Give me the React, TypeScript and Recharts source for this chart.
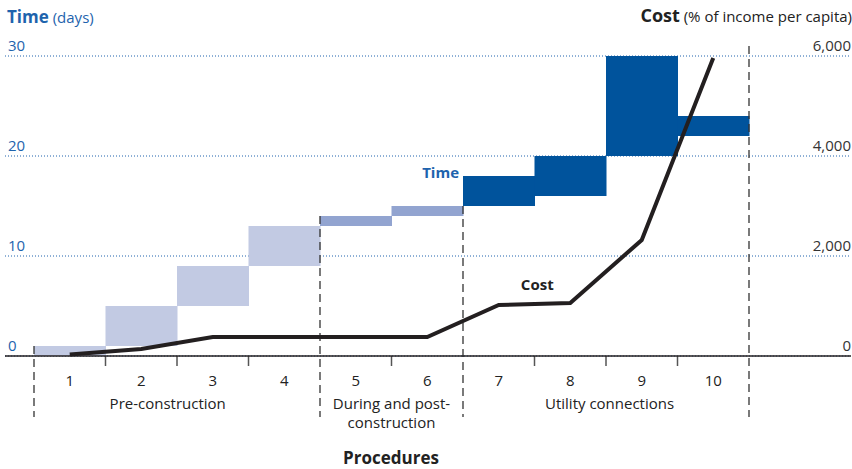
import React from 'react'
import {
  ComposedChart,
  Bar,
  Line,
  Cell,
  XAxis,
  YAxis,
  CartesianGrid,
  ReferenceLine,
  LabelList,
} from 'recharts'

// procedures 1..10
const steps = ['1', '2', '3', '4', '5', '6', '7', '8', '9', '10']
// time in days, each procedure as [start, end]
const timeStart = [0, 1, 5, 9, 13, 14, 15, 16, 20, 22]
const timeEnd = [1, 5, 9, 13, 14, 15, 18, 20, 30, 24]
// phase of each procedure: 0 pre-construction, 1 during/post, 2 utility
const phase = [0, 0, 0, 0, 1, 1, 2, 2, 2, 2]
// cumulative cost, % of income per capita
const cost = [30, 140, 380, 380, 380, 380, 1020, 1060, 2320, 5960]

const timeTicks = [0, 10, 20, 30]
const costTicks = [0, 2000, 4000, 6000]

const groupNames = ['Pre-construction', 'During and post-|construction', 'Utility connections']
const groupCenters = [1.87, 5, 8.05]
// phase borders (dashed) and their top value in days
const borders = [0, 4, 6, 10]
const borderTops = [1, 14, 15, 31]
const innerTicks = [1, 2, 3, 5, 7, 8, 9]

const phaseColors = ['#c2cae3', '#92a4d0', '#00539c']
const BLUE = '#1e63ad'
const FONT = '"Open Sans", sans-serif'

const data = steps.map((s, i) => ({
  step: s,
  mid: i + 0.5,
  time: [timeStart[i], timeEnd[i]],
  cost: cost[i],
  timeNote: i === 6 ? 'Time' : '',
  costNote: i === 7 ? 'Cost' : '',
}))

const LeftTick = ({ y, payload }: any) => (
  <text x={8} y={y - 5} fill={BLUE} fontSize={15} fontFamily={FONT}>
    {payload.value}
  </text>
)

const RightTick = ({ y, payload }: any) => (
  <text x={851} y={y - 5} fill="#333" fontSize={15} fontFamily={FONT} textAnchor="end">
    {payload.value.toLocaleString('en-US')}
  </text>
)

const StepTick = ({ x, y, payload }: any) => (
  <text x={x} y={y + 22} fill="#222" fontSize={15} fontFamily={FONT} textAnchor="middle">
    {payload.value}
  </text>
)

const GroupTick = ({ x, y, index }: any) => {
  const lines = groupNames[index].split('|')
  return (
    <text x={x} y={y + 23} fill="#222" fontSize={15} fontFamily={FONT} textAnchor="middle">
      {lines.map((l, i) => (
        <tspan key={i} x={x} dy={i === 0 ? 0 : 19}>
          {l}
        </tspan>
      ))}
    </text>
  )
}

export default function App() {
  return (
    <div style={{ position: 'absolute', left: 0, top: 0, width: 852, height: 469, fontFamily: FONT }}>
      <div style={{ position: 'absolute', left: 7, top: 5, color: BLUE, whiteSpace: 'nowrap' }}>
        <span style={{ fontSize: 17, fontWeight: 700 }}>Time</span>
        <span style={{ fontSize: 15 }}> (days)</span>
      </div>
      <div style={{ position: 'absolute', right: 0, top: 3, color: '#222', whiteSpace: 'nowrap' }}>
        <span style={{ fontSize: 18, fontWeight: 700 }}>Cost</span>
        <span style={{ fontSize: 15 }}> (% of income per capita)</span>
      </div>
      <div
        style={{
          position: 'absolute',
          left: 0,
          width: 782,
          top: 446,
          textAlign: 'center',
          fontSize: 17,
          fontWeight: 700,
          color: '#222',
        }}
      >
        Procedures
      </div>
      <ComposedChart
        width={852}
        height={469}
        data={data}
        margin={{ top: 56, right: 0, bottom: 41, left: 4 }}
        barCategoryGap={0}
        barGap={0}
      >
        <CartesianGrid
          horizontal={true}
          vertical={false}
          stroke={BLUE}
          strokeDasharray="1 2"
          yAxisId="left"
        />
        <XAxis
          dataKey="step"
          xAxisId={0}
          padding={{ left: 29, right: 102 }}
          height={22}
          tickLine={false}
          axisLine={{ stroke: '#231f20', strokeWidth: 1.5 }}
          tick={<StepTick />}
          interval={0}
        />
        <XAxis
          xAxisId="num"
          dataKey="mid"
          type="number"
          domain={[0, 10]}
          allowDataOverflow={true}
          padding={{ left: 29, right: 102 }}
          ticks={groupCenters}
          height={50}
          tickLine={false}
          axisLine={false}
          tick={<GroupTick />}
          interval={0}
        />
        <YAxis
          yAxisId="left"
          domain={[0, 30]}
          ticks={timeTicks}
          width={1}
          axisLine={false}
          tickLine={false}
          tick={<LeftTick />}
        />
        <YAxis
          yAxisId="right"
          orientation="right"
          domain={[0, 6000]}
          ticks={costTicks}
          width={1}
          axisLine={false}
          tickLine={false}
          tick={<RightTick />}
        />
        <Bar dataKey="time" yAxisId="left" xAxisId={0} isAnimationActive={false}>
          {data.map((d, i) => (
            <Cell key={d.step} fill={phaseColors[phase[i]]} />
          ))}
          <LabelList
            dataKey="timeNote"
            content={(p: any) =>
              p.value ? (
                <text
                  x={p.x - 4}
                  y={p.y + 2}
                  fill={BLUE}
                  fontSize={15}
                  fontWeight={700}
                  fontFamily={FONT}
                  textAnchor="end"
                >
                  {p.value}
                </text>
              ) : null
            }
          />
        </Bar>
        {innerTicks.map((t) => (
          <ReferenceLine
            key={'t' + t}
            xAxisId="num"
            yAxisId="left"
            ifOverflow="visible"
            segment={[
              { x: t, y: 0 },
              { x: t, y: -1 },
            ]}
            stroke="#555"
            strokeWidth={1.5}
          />
        ))}
        {borders.map((b, i) => (
          <ReferenceLine
            key={'b' + b}
            xAxisId="num"
            yAxisId="left"
            ifOverflow="visible"
            segment={[
              { x: b, y: borderTops[i] },
              { x: b, y: -6.1 },
            ]}
            stroke="#333"
            strokeWidth={1.3}
            strokeDasharray="8 5"
          />
        ))}
        <Line
          type="linear"
          dataKey="cost"
          yAxisId="right"
          xAxisId={0}
          stroke="#231f20"
          strokeWidth={4}
          dot={false}
          activeDot={false}
          isAnimationActive={false}
        >
          <LabelList
            dataKey="costNote"
            content={(p: any) =>
              p.value ? (
                <text
                  x={p.x - 33}
                  y={p.y - 13}
                  fill="#222"
                  fontSize={15}
                  fontWeight={700}
                  fontFamily={FONT}
                  textAnchor="middle"
                >
                  {p.value}
                </text>
              ) : null
            }
          />
        </Line>
      </ComposedChart>
    </div>
  )
}
